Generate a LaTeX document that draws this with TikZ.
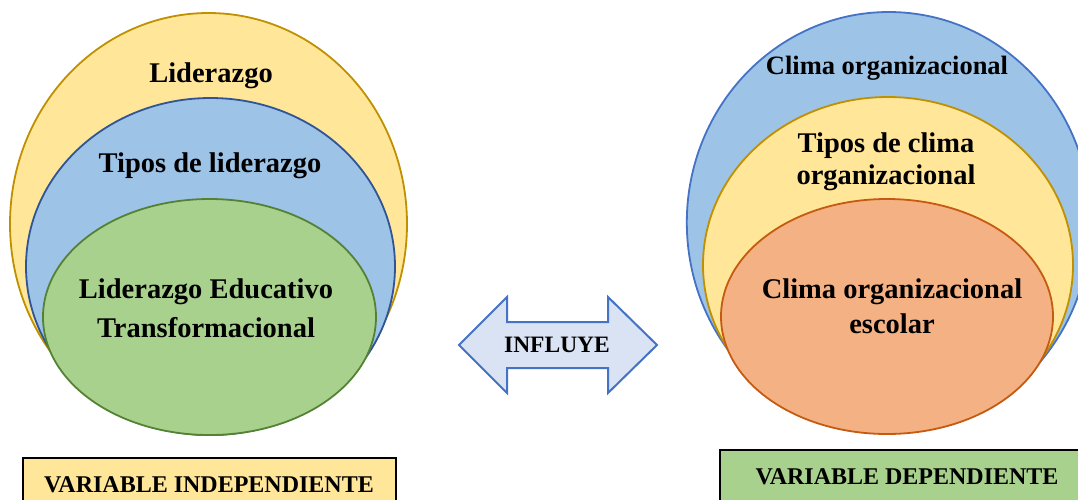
\documentclass[tikz,border=0pt]{standalone}
\usepackage{fontspec}
\setmainfont{Liberation Serif}
\usetikzlibrary{shapes.geometric}
\definecolor{yfill}{HTML}{FFE699}
\definecolor{yline}{HTML}{BF9000}
\definecolor{bfill}{HTML}{9DC3E6}
\definecolor{bline}{HTML}{4472C4}
\definecolor{bdark}{HTML}{2F5597}
\definecolor{gfill}{HTML}{A9D18E}
\definecolor{gline}{HTML}{548235}
\definecolor{ofill}{HTML}{F4B183}
\definecolor{oline}{HTML}{C55A11}
\definecolor{afill}{HTML}{DAE3F3}
\begin{document}
\begin{tikzpicture}[
    x=1pt, y=-1pt,
    oval/.style={ellipse, draw, line width=1.8pt, inner sep=0pt},
    txt/.style={anchor=base, align=center, font=\fontsize{28.5}{33}\selectfont\bfseries},
    varbox/.style={rectangle, draw=black, line width=2pt, minimum width=373pt, minimum height=54pt, font=\fontsize{24}{28}\selectfont\bfseries}
]
\useasboundingbox (0,0) rectangle (1078,499);
\clip (0,0) rectangle (1078,499);

\node[oval, fill=yfill, draw=yline, minimum width=397pt, minimum height=422pt] (lider) at (208.5,224) {};
\node[oval, fill=bfill, draw=bdark, minimum width=369pt, minimum height=337pt] (tipos) at (210.5,266.5) {};
\node[oval, fill=gfill, draw=gline, minimum width=333pt, minimum height=236pt] (educ) at (209.5,317) {};
\node[txt] (liderT) at (211,82) {Liderazgo};
\node[txt] (tiposT) at (210,172) {Tipos de liderazgo};
\node[txt, font=\fontsize{28.5}{39}\selectfont\bfseries] (educT) at (206,337) {Liderazgo Educativo\\Transformacional};

\node[oval, fill=bfill, draw=bline, minimum width=404pt, minimum height=421pt] (clima) at (888.8,222.5) {};
\node[oval, fill=yfill, draw=yline, minimum width=370pt, minimum height=336pt] (tclima) at (888,265) {};
\node[oval, fill=ofill, draw=oline, minimum width=332pt, minimum height=235pt] (escolar) at (887,316.5) {};
\node[txt, font=\fontsize{26.5}{31}\selectfont\bfseries] (climaT) at (887,74) {Clima organizacional};
\node[txt, font=\fontsize{28.5}{32}\selectfont\bfseries] (tclimaT) at (886,184) {Tipos de clima\\organizacional};
\node[txt, font=\fontsize{28.5}{35}\selectfont\bfseries] (escolarT) at (892,333) {Clima organizacional\\escolar};

\draw[line width=2pt, draw=bline, fill=afill] (459,345) -- (507,297) -- (507,322) -- (608,322) -- (608,297) -- (657,345)
    -- (608,393) -- (608,368) -- (507,368) -- (507,393) -- cycle;
\node[font=\fontsize{23.5}{26}\selectfont\bfseries] (influye) at (557,345) {INFLUYE};

\node[varbox, fill=yfill] (indep) at (209,485) {VARIABLE INDEPENDIENTE};
\node[varbox, fill=gfill, minimum width=375pt] (dep) at (907,477) {VARIABLE DEPENDIENTE};
\end{tikzpicture}
\end{document}
